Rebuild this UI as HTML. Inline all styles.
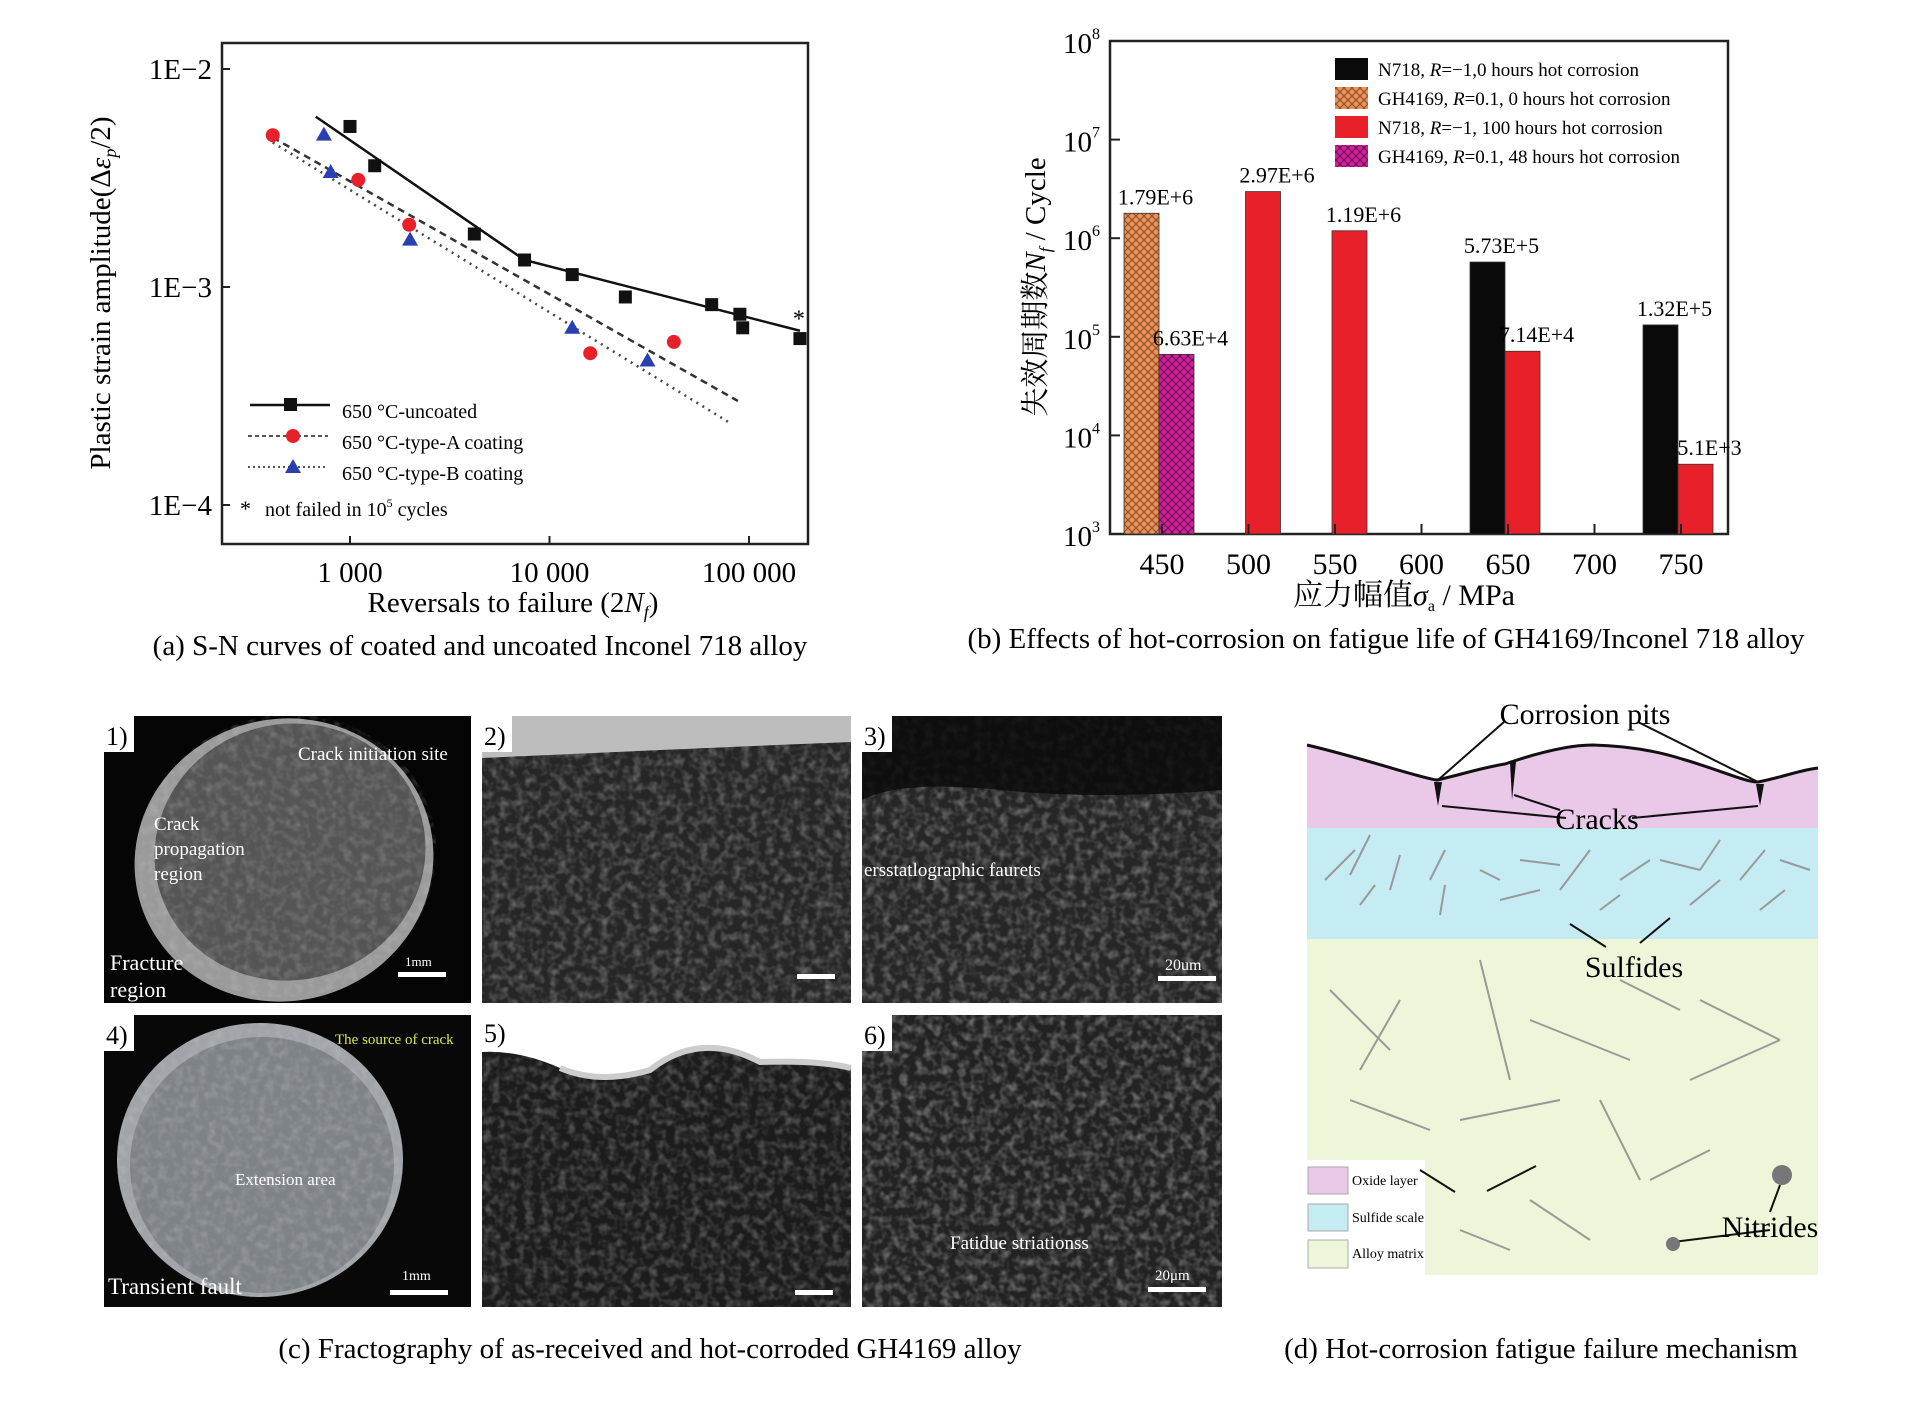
<!DOCTYPE html>
<html><head><meta charset="utf-8"><style>
html,body{margin:0;padding:0;background:#fff;}
svg{display:block;font-family:"Liberation Serif","Noto Serif CJK SC",serif;}
</style></head><body>
<svg id="fig" width="1907" height="1409" viewBox="0 0 1907 1409" xmlns="http://www.w3.org/2000/svg">
<defs>
<pattern id="hatchO" width="8" height="8" patternUnits="userSpaceOnUse"><rect width="8" height="8" fill="#e8915a"/><path d="M0 0L8 8M8 0L0 8" stroke="#8a4a20" stroke-width="1"/></pattern>
<pattern id="hatchM" width="8" height="8" patternUnits="userSpaceOnUse"><rect width="8" height="8" fill="#d0209a"/><path d="M0 0L8 8M8 0L0 8" stroke="#6a0a50" stroke-width="1"/></pattern>
<filter id="sem" x="0" y="0" width="100%" height="100%"><feTurbulence type="fractalNoise" baseFrequency="0.12" numOctaves="2" seed="3"/><feColorMatrix type="matrix" values="0 0 0 0 0.6  0 0 0 0 0.6  0 0 0 0 0.6  1.6 0 0 0 -0.65"/><feComposite in2="SourceGraphic" operator="in"/></filter>
<clipPath id="c1"><rect x="104" y="716" width="367" height="287"/></clipPath>
<clipPath id="c4"><rect x="104" y="1015" width="367" height="292"/></clipPath>
</defs>

<!-- Panel (a) -->
<g id="pa">
<rect x="222" y="43" width="586" height="501" fill="none" stroke="#222" stroke-width="2.5"/>
<g id="pa-axes"></g><g id="pa-marks"></g>
<text x="110" y="293" transform="rotate(-90 110 293)" text-anchor="middle" font-size="29">Plastic strain amplitude(Δ<tspan font-style="italic">ε</tspan><tspan font-size="18" dy="6" font-style="italic">p</tspan><tspan dy="-6">/2)</tspan></text>
<text x="513" y="612" text-anchor="middle" font-size="29">Reversals to failure (2<tspan font-style="italic">N</tspan><tspan font-size="18" dy="6" font-style="italic">f</tspan><tspan dy="-6">)</tspan></text>
<g font-size="20">
<line x1="250" y1="405" x2="330" y2="405" stroke="#111" stroke-width="2.5"/><rect x="284" y="398" width="13" height="13" fill="#111"/><text x="342" y="418">650 °C-uncoated</text>
<line x1="248" y1="436" x2="328" y2="436" stroke="#555" stroke-width="2" stroke-dasharray="4 3"/><circle cx="293" cy="436" r="7" fill="#e8202a"/><text x="342" y="449">650 °C-type-A coating</text>
<line x1="248" y1="467" x2="328" y2="467" stroke="#555" stroke-width="2" stroke-dasharray="2 3"/><path d="M293 459L301 473H285Z" fill="#2a40b0"/><text x="342" y="480">650 °C-type-B coating</text>
<text x="240" y="516" font-size="22">*</text><text x="265" y="516">not failed in 10<tspan font-size="12" dy="-9">5</tspan><tspan dy="9"> cycles</tspan></text>
</g>
<text x="480" y="655" text-anchor="middle" font-size="29">(a) S-N curves of coated and uncoated Inconel 718 alloy</text>
</g>

<!-- Panel (b) -->
<g id="pb">
<rect x="1110" y="41" width="618" height="493" fill="none" stroke="#222" stroke-width="2.5"/>
<g id="pb-marks"></g><g id="pb-axes"></g>
<text x="1045" y="287" transform="rotate(-90 1045 287)" text-anchor="middle" font-size="29">失效周期数<tspan font-style="italic">N</tspan><tspan font-size="17" dy="6" font-style="italic">f</tspan><tspan dy="-6"> / Cycle</tspan></text>
<text x="1404" y="605" text-anchor="middle" font-size="30">应力幅值<tspan font-style="italic">σ</tspan><tspan font-size="16" dy="6">a</tspan><tspan dy="-6"> / MPa</tspan></text>
<g id="pb-legend" font-size="19"></g>
<text x="1386" y="648" text-anchor="middle" font-size="29">(b) Effects of hot-corrosion on fatigue life of GH4169/Inconel 718 alloy</text>
</g>

<!-- Panel (c) -->
<g id="pc" font-size="19">
<g clip-path="url(#c1)">
<rect x="104" y="716" width="367" height="287" fill="#050505"/>
<ellipse cx="284" cy="860" rx="150" ry="141" transform="rotate(-15 284 860)" fill="#9a9a9a"/>
<ellipse cx="290" cy="852" rx="136" ry="128" transform="rotate(-15 290 852)" fill="#555"/>
<ellipse cx="287" cy="856" rx="150" ry="141" transform="rotate(-15 287 856)" fill="#fff" filter="url(#sem)" opacity="0.35"/>
<rect x="104" y="716" width="30" height="36" fill="#fff"/><text x="106" y="745" font-size="26">1)</text>
<text x="298" y="760" fill="#fff">Crack initiation site</text>
<text x="154" y="830" fill="#fff">Crack</text><text x="154" y="855" fill="#fff">propagation</text><text x="154" y="880" fill="#fff">region</text>
<text x="110" y="970" fill="#fff" font-size="22">Fracture</text><text x="110" y="997" fill="#fff" font-size="22">region</text>
<rect x="398" y="972" width="48" height="5" fill="#fff"/><text x="405" y="966" fill="#fff" font-size="13">1mm</text>
</g>
<g>
<rect x="482" y="716" width="369" height="287" fill="#262626"/>
<rect x="482" y="716" width="369" height="287" fill="#fff" filter="url(#sem)" opacity="0.5"/>
<path d="M482 716H851V742Q700 748 482 758Z" fill="#bdbdbd"/>
<rect x="482" y="716" width="30" height="36" fill="#fff"/><text x="484" y="745" font-size="26">2)</text>
<rect x="797" y="974" width="38" height="5" fill="#fff"/>
</g>
<g>
<rect x="862" y="716" width="360" height="287" fill="#262626"/>
<rect x="862" y="716" width="360" height="287" fill="#fff" filter="url(#sem)" opacity="0.55"/>
<path d="M862 716H1222V790Q1100 800 1000 790T862 800Z" fill="#0a0a0a" opacity="0.85"/>
<rect x="862" y="716" width="30" height="36" fill="#fff"/><text x="864" y="745" font-size="26">3)</text>
<text x="864" y="876" fill="#fff">ersstatlographic faurets</text>
<rect x="1158" y="976" width="58" height="5" fill="#fff"/><text x="1165" y="970" fill="#fff" font-size="16">20um</text>
</g>
<g clip-path="url(#c4)">
<rect x="104" y="1015" width="367" height="292" fill="#080808"/>
<ellipse cx="260" cy="1160" rx="143" ry="137" fill="#a0a4a8"/>
<ellipse cx="262" cy="1165" rx="132" ry="128" fill="#7e8388"/>
<ellipse cx="260" cy="1160" rx="143" ry="137" fill="#fff" filter="url(#sem)" opacity="0.4"/>
<rect x="104" y="1015" width="30" height="36" fill="#fff"/><text x="106" y="1044" font-size="26">4)</text>
<text x="335" y="1044" fill="#dde25a" font-size="15">The source of crack</text>
<text x="235" y="1185" fill="#fff" font-size="17">Extension area</text>
<text x="108" y="1294" fill="#fff" font-size="23">Transient fault</text>
<rect x="390" y="1290" width="58" height="5" fill="#fff"/><text x="402" y="1280" fill="#fff" font-size="14">1mm</text>
</g>
<g>
<rect x="482" y="1015" width="369" height="292" fill="#1c1c1c"/>
<rect x="482" y="1015" width="369" height="292" fill="#fff" filter="url(#sem)" opacity="0.45"/>
<path d="M482 1015H851V1068Q820 1060 760 1062Q700 1030 650 1070Q600 1085 560 1068Q520 1050 482 1052Z" fill="#fff"/>
<path d="M560 1068Q600 1085 650 1070Q700 1030 760 1062Q820 1060 851 1068" stroke="#ccc" stroke-width="6" fill="none"/>
<text x="484" y="1042" font-size="26">5)</text>
<rect x="795" y="1290" width="38" height="5" fill="#fff"/>
</g>
<g>
<rect x="862" y="1015" width="360" height="292" fill="#222"/>
<rect x="862" y="1015" width="360" height="292" fill="#fff" filter="url(#sem)" opacity="0.6"/>
<rect x="862" y="1015" width="30" height="36" fill="#fff"/><text x="864" y="1044" font-size="26">6)</text>
<text x="950" y="1249" fill="#fff">Fatidue striationss</text>
<rect x="1148" y="1287" width="58" height="5" fill="#fff"/><text x="1155" y="1280" fill="#fff" font-size="15">20μm</text>
</g>
<text x="650" y="1358" text-anchor="middle" font-size="29">(c) Fractography of as-received and hot-corroded GH4169 alloy</text>
</g>

<!-- Panel (d) -->
<g id="pd">
<path d="M1307 745C1370 760 1420 778 1437 780C1460 775 1480 768 1505 764C1540 752 1570 745 1593 745C1630 746 1660 752 1682 759C1720 770 1745 782 1758 782C1780 778 1800 770 1818 768V828H1307Z" fill="#eac8e8"/>
<rect x="1307" y="828" width="511" height="111" fill="#c4ecf2"/>
<rect x="1307" y="939" width="511" height="336" fill="#eef6da"/>
<rect x="1307" y="1160" width="118" height="116" fill="#fff"/>
<path d="M1307 745C1370 760 1420 778 1437 780C1460 775 1480 768 1505 764C1540 752 1570 745 1593 745C1630 746 1660 752 1682 759C1720 770 1745 782 1758 782C1780 778 1800 770 1818 768" stroke="#111" stroke-width="3" fill="none"/>
<path d="M1434 782L1438 806L1442 782Z M1510 762L1512 800L1516 762Z M1756 784L1760 806L1764 784Z" fill="#111"/>
<g stroke="#999" stroke-width="2" fill="none">
<path d="M1325 880l30-30M1350 875l20-40M1390 890l10-35M1430 880l15-30M1480 870l20 10M1520 860l40 5M1560 890l30-40M1620 880l30-20M1660 860l40 10M1700 870l20-30M1740 880l25-30M1780 860l30 10M1360 905l15-20M1440 915l5-30M1500 900l40-10M1600 910l20-15M1690 905l30-25M1760 910l25-20"/>
<path d="M1330 990l60 60M1400 1000l-40 70M1480 960l30 120M1530 1020l100 40M1620 980l60 30M1700 1000l80 40M1350 1100l80 30M1460 1120l100-20M1600 1100l40 80M1690 1080l90 -40M1530 1200l60 40M1650 1180l60-30M1460 1230l50 20"/>
</g>
<g stroke="#111" stroke-width="2" fill="none">
<path d="M1504 722L1438 780M1638 722L1758 782M1442 806L1566 818M1514 795L1560 810M1632 818L1758 806M1570 924L1606 947M1670 918L1640 943M1420 1170L1455 1192M1487 1191L1536 1166M1770 1230L1673 1242M1770 1212L1780 1185"/>
</g>
<circle cx="1782" cy="1175" r="10" fill="#777"/><circle cx="1673" cy="1244" r="7" fill="#777"/>
<g font-size="30"><text x="1585" y="724" text-anchor="middle">Corrosion pits</text><text x="1597" y="829" text-anchor="middle">Cracks</text><text x="1634" y="977" text-anchor="middle">Sulfides</text><text x="1770" y="1237" text-anchor="middle">Nitrides</text></g>
<g font-size="14">
<rect x="1308" y="1167" width="40" height="27" fill="#eac8e8" stroke="#aaa"/><text x="1352" y="1185">Oxide layer</text>
<rect x="1308" y="1204" width="40" height="27" fill="#c4ecf2" stroke="#aaa"/><text x="1352" y="1222">Sulfide scale</text>
<rect x="1308" y="1240" width="40" height="28" fill="#eef6da" stroke="#aaa"/><text x="1352" y="1258">Alloy matrix</text>
</g>
<text x="1541" y="1358" text-anchor="middle" font-size="29">(d) Hot-corrosion fatigue failure mechanism</text>
</g>
</svg>
<script>
const NS='http://www.w3.org/2000/svg';
// ---- Panel (a) data ----
const aUncoatedX=[1000,1330,4200,7500,13000,24000,65000,90000,93000,180000];
const aUncoatedY=[5.45e-3,3.6e-3,1.75e-3,1.33e-3,1.14e-3,0.9e-3,0.83e-3,0.75e-3,0.65e-3,0.58e-3];
const aTypeAX=[410,1100,1980,16000,42000];
const aTypeAY=[4.97e-3,3.1e-3,1.93e-3,0.497e-3,0.56e-3];
const aTypeBX=[740,800,2000,13000,31000];
const aTypeBY=[5.0e-3,3.37e-3,1.65e-3,0.65e-3,0.46e-3];
const aFitUncX=[674,7500,180000];
const aFitUncY=[6.04e-3,1.33e-3,0.63e-3];
const aFitAX=[410,88000];
const aFitAY=[4.85e-3,0.3e-3];
const aFitBX=[410,82000];
const aFitBY=[4.6e-3,0.235e-3];
const aXTicks=[1000,10000,100000];
const aXTickLabels=['1 000','10 000','100 000'];
const aYTicks=[1e-2,1e-3,1e-4];
const aYTickLabels=['1E−2','1E−3','1E−4'];
// ---- Panel (b) data ----
const bCategories=[450,500,550,600,650,700,750];
const bN718R1=[null,null,null,null,5.73e5,null,1.32e5];
const bGH0=[1.79e6,null,null,null,null,null,null];
const bN718Corr=[null,2.97e6,1.19e6,null,7.14e4,null,5.1e3];
const bGH48=[6.63e4,null,null,null,null,null,null];
const bN718R1Labels=[null,null,null,null,'5.73E+5',null,'1.32E+5'];
const bGH0Labels=['1.79E+6',null,null,null,null,null,null];
const bN718CorrLabels=[null,'2.97E+6','1.19E+6',null,'7.14E+4',null,'5.1E+3'];
const bGH48Labels=['6.63E+4',null,null,null,null,null,null];
const bYTicks=[3,4,5,6,7,8];

function ax(v){return 350+(Math.log10(v)-3)*199.5;}
function ay(v){return 287-(Math.log10(v)+3)*218;}
function el(tag,attrs,parent){const e=document.createElementNS(NS,tag);for(const k in attrs)e.setAttribute(k,attrs[k]);parent.appendChild(e);return e;}

const pa=document.getElementById('pa-axes');
aXTicks.forEach((t,i)=>{
  const l=el('line',{x1:ax(t),x2:ax(t),y1:544,y2:536,stroke:'#222','stroke-width':2},pa);
  
  
  const tx=el('text',{x:ax(t),y:582,'text-anchor':'middle','font-size':29},pa);
  tx.textContent=aXTickLabels[i];
  
  
});
aYTicks.forEach((t,i)=>{
  const l=el('line',{x1:222,x2:230,y1:ay(t),y2:ay(t),stroke:'#222','stroke-width':2},pa);
  
  
  const tx=el('text',{x:212,y:ay(t)+10,'text-anchor':'end','font-size':29},pa);
  tx.textContent=aYTickLabels[i];
  
  
});
const pm=document.getElementById('pa-marks');
function fit(xs,ys,attrs,name){const p=el('polyline',Object.assign({points:xs.map((x,i)=>ax(x)+','+ay(ys[i])).join(' '),fill:'none'},attrs),pm);
  
  }
fit(aFitUncX,aFitUncY,{stroke:'#111','stroke-width':2.5},'fit-line-uncoated');
fit(aFitAX,aFitAY,{stroke:'#333','stroke-width':2.5,'stroke-dasharray':'7 5'},'fit-line-type-a');
fit(aFitBX,aFitBY,{stroke:'#444','stroke-width':2.5,'stroke-dasharray':'2 5'},'fit-line-type-b');
aUncoatedX.forEach((x,i)=>{const r=el('rect',{x:ax(x)-6.5,y:ay(aUncoatedY[i])-6.5,width:13,height:13,fill:'#111'},pm);
  
  });
aTypeAX.forEach((x,i)=>{const c=el('circle',{cx:ax(x),cy:ay(aTypeAY[i]),r:7,fill:'#e8202a'},pm);
  
  });
aTypeBX.forEach((x,i)=>{const X=ax(x),Y=ay(aTypeBY[i]);const t=el('path',{d:`M${X} ${Y-8}L${X+8} ${Y+6}H${X-8}Z`,fill:'#2a40b0'},pm);
  
  });
const st=el('text',{x:ax(aUncoatedX[aUncoatedX.length-1])-7,y:ay(aUncoatedY[aUncoatedY.length-1])-12,'font-size':24},pm);
st.textContent='*';



// Panel (b)
function bx(i){return 1162+i*86.5;}
function by(v){return 534-(Math.log10(v)-3)*98.6;}
const pbA=document.getElementById('pb-axes');
bYTicks.forEach(p=>{
  const y=by(Math.pow(10,p));
  const l=el('line',{x1:1110,x2:1120,y1:y,y2:y,stroke:'#222','stroke-width':2},pbA);
  
  
  const t=el('text',{x:1100,y:y+12,'text-anchor':'end','font-size':29},pbA);
  t.innerHTML='10<tspan font-size="16" dy="-14">'+p+'</tspan>';
  
  
});
bCategories.forEach((c,i)=>{
  const l=el('line',{x1:bx(i),x2:bx(i),y1:534,y2:524,stroke:'#222','stroke-width':2},pbA);
  
  
  const t=el('text',{x:bx(i),y:574,'text-anchor':'middle','font-size':30},pbA);
  t.textContent=c;
  
  
});
const pbM=document.getElementById('pb-marks');
function bars(vals,labels,fill,slot,name){
  vals.forEach((v,i)=>{
    if(v==null)return;
    const x0=slot==='L'?bx(i)-38:bx(i)-3;
    const r=el('rect',{x:x0,y:by(v),width:35,height:534-by(v),fill:fill,stroke:'#333','stroke-width':0.8},pbM);
    
    
    const t=el('text',{x:x0+17.5+14,y:by(v)-9,'text-anchor':'middle','font-size':22},pbM);
    t.textContent=labels[i];
    
    
  });
}
bars(bN718R1,bN718R1Labels,'#0a0a0a','L','bar-n718-uncorroded');
bars(bGH0,bGH0Labels,'url(#hatchO)','L','bar-gh4169-0h');
bars(bN718Corr,bN718CorrLabels,'#e8202a','R','bar-n718-100h');
bars(bGH48,bGH48Labels,'url(#hatchM)','R','bar-gh4169-48h');
const lg=document.getElementById('pb-legend');
const legItems=[['#0a0a0a','N718, <tspan font-style="italic">R</tspan>=−1,0 hours hot corrosion'],['url(#hatchO)','GH4169, <tspan font-style="italic">R</tspan>=0.1, 0 hours hot corrosion'],['#e8202a','N718, <tspan font-style="italic">R</tspan>=−1, 100 hours hot corrosion'],['url(#hatchM)','GH4169, <tspan font-style="italic">R</tspan>=0.1, 48 hours hot corrosion']];
legItems.forEach((it,i)=>{
  const y=58+i*29;
  const r=el('rect',{x:1335,y:y,width:33,height:22,fill:it[0]},lg);
  
  
  const t=el('text',{x:1378,y:y+18},lg);
  t.innerHTML=it[1];
  
  
});
</script>
</body></html>
